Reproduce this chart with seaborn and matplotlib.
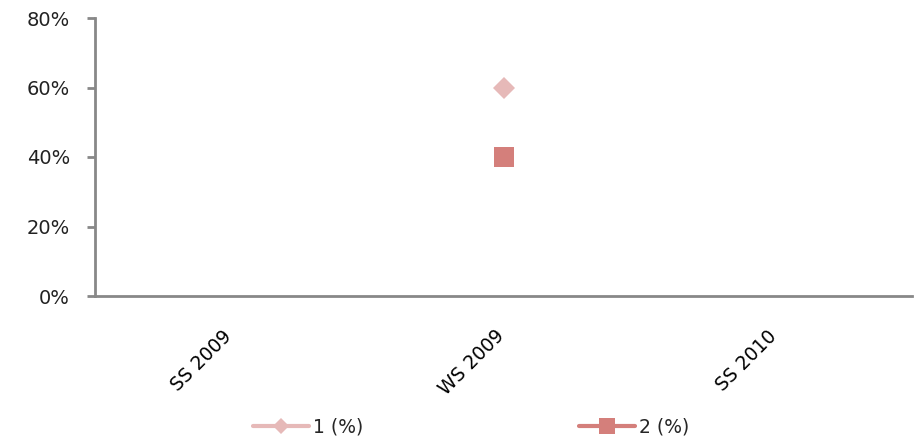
import numpy as np
import pandas as pd
import matplotlib
matplotlib.use("Agg")
import matplotlib.pyplot as plt
import matplotlib.transforms as mtransforms
import seaborn as sns

categories = ["SS 2009", "WS 2009", "SS 2010"]
series1_name = "1 (%)"
series2_name = "2 (%)"
series1 = [np.nan, 60, np.nan]
series2 = [np.nan, 40, np.nan]
yticks = [0, 20, 40, 60, 80]

sns.set_theme(style="white")
plt.rcParams["font.family"] = ["DejaVu Sans"]

fig = plt.figure(figsize=(9.16, 4.42), dpi=100)
ax = fig.add_axes([95 / 916, 1 - 296 / 442, (912 - 95) / 916, (296 - 18) / 442])

pos = np.arange(len(categories))
df = pd.DataFrame({"pos": pos, "s1": series1, "s2": series2})

c1 = "#e6b9b8"
c2 = "#d47f7b"
sns.lineplot(data=df, x="pos", y="s1", ax=ax, color=c1, marker="D", markersize=11,
             markeredgewidth=0, linewidth=3, label=series1_name)
sns.lineplot(data=df, x="pos", y="s2", ax=ax, color=c2, marker="s", markersize=15,
             markeredgewidth=0, linewidth=3, label=series2_name)

ax.set_xlim(-0.5, len(categories) - 0.5)
ax.set_ylim(0, 80)
ax.set_yticks(yticks)
ax.set_yticklabels([f"{v}%" for v in yticks], fontsize=14, color="#222222")
ax.set_xticks(pos)
ax.set_xticklabels(categories, rotation=45, ha="right", va="top",
                   rotation_mode="anchor", fontsize=13.5, color="#000000")
ax.tick_params(axis="x", length=0, pad=22)
ax.tick_params(axis="y", length=6, width=2, color="#888888", direction="out", pad=12, left=True)
offset = mtransforms.ScaledTranslation(-9 / 100, 0, fig.dpi_scale_trans)
for lab in ax.get_xticklabels():
    lab.set_transform(lab.get_transform() + offset)
ax.set_xlabel("")
ax.set_ylabel("")
for s in ["top", "right"]:
    ax.spines[s].set_visible(False)
for s in ["left", "bottom"]:
    ax.spines[s].set_color("#888888")
    ax.spines[s].set_linewidth(2)
ax.grid(False)

ax.legend_.remove()
h, l = ax.get_legend_handles_labels()
fig.legend(h, l, loc="center", bbox_to_anchor=(471 / 916, 1 - 427 / 442), ncol=2,
           frameon=False, fontsize=13.5, handlelength=3.0, columnspacing=11.5,
           handletextpad=0.2, markerscale=0.75)

fig.savefig("out.png", dpi=100)
